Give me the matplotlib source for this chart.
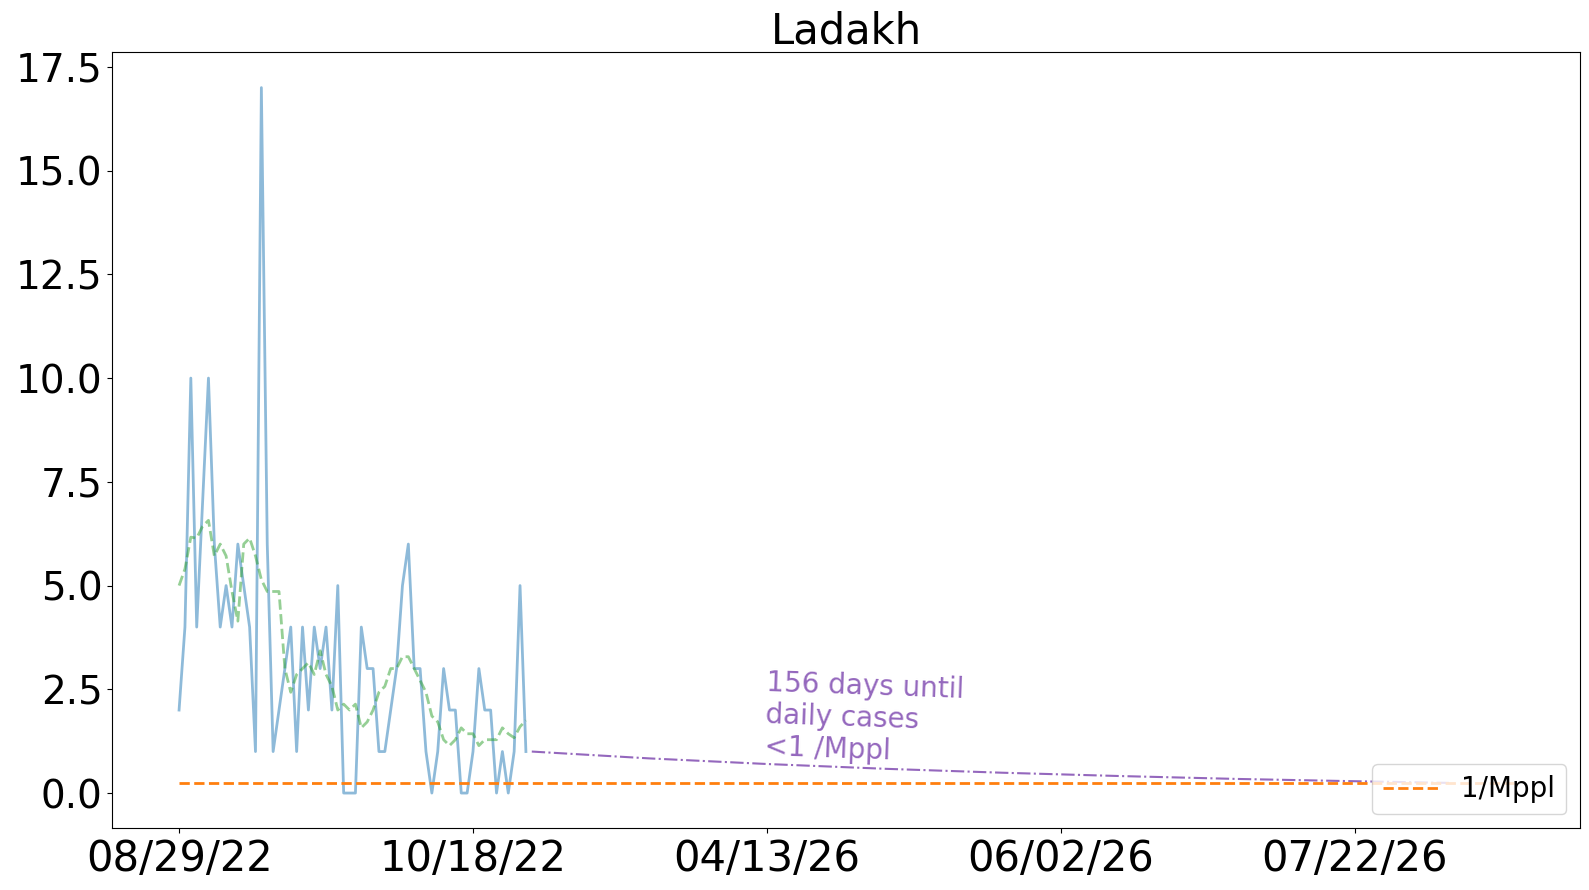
import matplotlib
matplotlib.use("Agg")
import matplotlib.pyplot as plt
import numpy as np
import pandas as pd

title = "Ladakh"
daily_cases = [2, 4, 10, 4, 7, 10, 6, 4, 5, 4,
               6, 5, 4, 1, 17, 6, 1, 2, 3, 4,
               1, 4, 2, 4, 3, 4, 2, 5, 0, 0,
               0, 4, 3, 3, 1, 1, 2, 3, 5, 6,
               3, 3, 1, 0, 1, 3, 2, 2, 0, 0,
               1, 3, 2, 2, 0, 1, 0, 1, 5, 1]
proj_days = [60, 80, 100, 120, 140, 160, 180, 200, 216]
proj_vals = [1.0, 0.835, 0.70, 0.585, 0.49, 0.41, 0.34, 0.285, 0.245]
threshold = 0.245
threshold_span = [0, 227]
tick_pos = [0, 50, 100, 150, 200]
tick_labels = ["08/29/22", "10/18/22", "04/13/26", "06/02/26", "07/22/26"]
note = "156 days until\ndaily cases\n<1 /Mppl"

days = np.arange(len(daily_cases))
s = pd.Series(daily_cases, index=days)
smooth = s.rolling(7, center=True, min_periods=1).mean()

fig = plt.figure(figsize=(15.89, 8.90), dpi=100)
ax = fig.add_axes([0.0707, 0.0693, 0.9238, 0.8719])

ax.plot(days, daily_cases, color="tab:blue", alpha=0.5, lw=2)
ax.plot(days, smooth.values, color="tab:green", alpha=0.5, lw=2, ls="--")
ax.plot(proj_days, proj_vals, color="tab:purple", lw=1.5, ls="-.")
ax.plot(threshold_span, [threshold, threshold], color="tab:orange", lw=2, ls="--", label="1/Mppl")

ax.text(100, 3.0, note, color="tab:purple", fontsize=20, rotation=-2,
        rotation_mode="anchor", ha="left", va="top")

ax.set_xticks(tick_pos)
ax.set_xticklabels(tick_labels)
ax.tick_params(axis="x", labelsize=30)
ax.tick_params(axis="y", labelsize=28)
ax.set_title(title, fontsize=30)
ax.legend(loc="lower right", fontsize=20)

fig.savefig("out.png", dpi=100)
